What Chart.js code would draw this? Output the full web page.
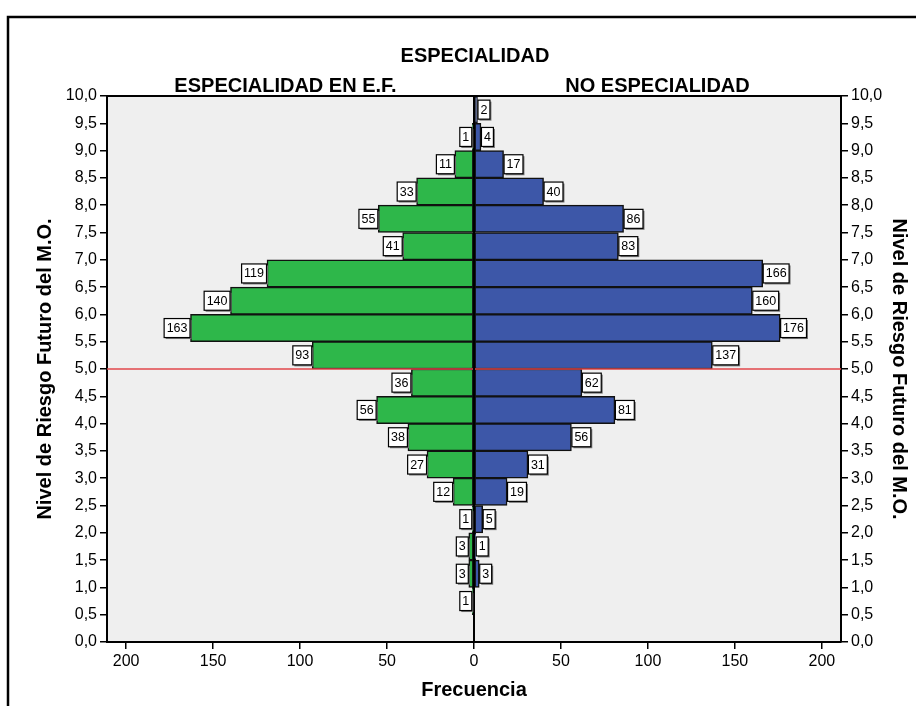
<!DOCTYPE html>
<html><head><meta charset="utf-8">
<script src="https://cdn.jsdelivr.net/npm/chart.js@4.4.0/dist/chart.umd.min.js"></script>
<style>html,body{margin:0;padding:0;background:#fff;} canvas{display:block;}</style>
</head><body>
<canvas id="c" width="916" height="706"></canvas>
<script>
// ---- data ----
const binCenters = [9.75, 9.25, 8.75, 8.25, 7.75, 7.25, 6.75, 6.25, 5.75, 5.25, 4.75, 4.25, 3.75, 3.25, 2.75, 2.25, 1.75, 1.25, 0.75, 0.25];
const efValues   = [0, 1, 11, 33, 55, 41, 119, 140, 163, 93, 36, 56, 38, 27, 12, 1, 3, 3, 1, 0];
const noValues   = [2, 4, 17, 40, 86, 83, 166, 160, 176, 137, 62, 81, 56, 31, 19, 5, 1, 3, 0, 0];
const xTickValues = [-200, -150, -100, -50, 0, 50, 100, 150, 200];
const yTickValues = [0, 0.5, 1, 1.5, 2, 2.5, 3, 3.5, 4, 4.5, 5, 5.5, 6, 6.5, 7, 7.5, 8, 8.5, 9, 9.5, 10];
const seriesNames = ['ESPECIALIDAD EN E.F.', 'NO ESPECIALIDAD'];
const mainTitle = 'ESPECIALIDAD';
const xTitle = 'Frecuencia';
const yTitle = 'Nivel de Riesgo Futuro del M.O.';
const cutoffLevel = 5.0;

const FONT = "'Liberation Sans', Arial, Helvetica, sans-serif";
const tickFont = { family: FONT, size: 16 };

function yFmt(v) { return Number(v).toFixed(1).replace('.', ','); }

const deco = {
  id: 'deco',
  beforeDraw(chart) {
    const { ctx, chartArea: a } = chart;
    ctx.save();
    ctx.fillStyle = '#ffffff';
    ctx.fillRect(0, 0, chart.width, chart.height);
    ctx.fillStyle = '#efefef';
    ctx.fillRect(a.left, a.top, a.right - a.left, a.bottom - a.top);
    // outer frame
    ctx.strokeStyle = '#000';
    ctx.lineWidth = 2.5;
    ctx.beginPath();
    ctx.moveTo(8, chart.height + 5);
    ctx.lineTo(8, 17);
    ctx.lineTo(chart.width + 5, 17);
    ctx.stroke();
    // titles
    ctx.fillStyle = '#000';
    ctx.textAlign = 'center';
    ctx.textBaseline = 'middle';
    ctx.font = 'bold 20px ' + FONT;
    const mid = chart.scales.x.getPixelForValue(0);
    ctx.fillText(mainTitle, mid + 1, 56);
    ctx.fillText(seriesNames[0], (a.left + mid) / 2 - 5, 86);
    ctx.fillText(seriesNames[1], (mid + a.right) / 2, 86);
    ctx.fillText(xTitle, mid, 690);
    const cy = (a.top + a.bottom) / 2;
    ctx.save();
    ctx.translate(45, cy);
    ctx.rotate(-Math.PI / 2);
    ctx.fillText(yTitle, 0, 0);
    ctx.restore();
    ctx.save();
    ctx.translate(899, cy);
    ctx.rotate(Math.PI / 2);
    ctx.fillText(yTitle, 0, 0);
    ctx.restore();
    ctx.restore();
  },
  afterDatasetsDraw(chart) {
    const { ctx, chartArea: a, scales } = chart;
    ctx.save();
    // cutoff red line
    const ry = scales.y.getPixelForValue(cutoffLevel);
    ctx.strokeStyle = '#e2474b';
    ctx.lineWidth = 1.6;
    ctx.beginPath();
    ctx.moveTo(a.left, ry);
    ctx.lineTo(a.right, ry);
    ctx.stroke();
    // zero line
    const zx = scales.x.getPixelForValue(0);
    ctx.strokeStyle = '#000';
    ctx.lineWidth = 2;
    ctx.beginPath();
    ctx.moveTo(zx, a.top);
    ctx.lineTo(zx, a.bottom);
    ctx.stroke();
    // top border of plot area
    ctx.lineWidth = 2;
    ctx.beginPath();
    ctx.moveTo(a.left, a.top);
    ctx.lineTo(a.right, a.top);
    ctx.stroke();
    // value labels
    ctx.font = '12.5px ' + FONT;
    ctx.textBaseline = 'middle';
    ctx.textAlign = 'center';
    const src = [efValues, noValues];
    [0, 1].forEach(d => {
      const meta = chart.getDatasetMeta(d);
      meta.data.forEach((bar, i) => {
        const v = src[d][i];
        if (!v) return;
        const txt = String(v);
        const w = ctx.measureText(txt).width + 5;
        const h = 19;
        const x0 = d === 0 ? bar.x - 0.5 - w : bar.x + 0.5;
        const y0 = bar.y - h / 2;
        ctx.fillStyle = '#777';
        ctx.fillRect(x0 + 1.5, y0 + 1.5, w, h);
        ctx.fillStyle = '#fff';
        ctx.fillRect(x0, y0, w, h);
        ctx.strokeStyle = '#000';
        ctx.lineWidth = 1.2;
        ctx.strokeRect(x0, y0, w, h);
        ctx.fillStyle = '#000';
        ctx.fillText(txt, x0 + w / 2, bar.y + 0.5);
      });
    });
    ctx.restore();
  }
};

const axisGrid = { drawOnChartArea: false, drawTicks: true, tickLength: 7, color: '#000', lineWidth: 1.5, offset: false };
const axisBorder = { color: '#000', width: 2 };

function yAxis(pos, w) {
  return {
    type: 'linear', position: pos, min: 0, max: 10, stacked: true, offset: false,
    afterBuildTicks: s => { s.ticks = yTickValues.map(v => ({ value: v })); },
    afterFit: s => { s.width = w; },
    ticks: { callback: v => yFmt(v), autoSkip: false, font: tickFont, color: '#000', padding: 3 },
    grid: axisGrid, border: axisBorder
  };
}

new Chart(document.getElementById('c'), {
  type: 'bar',
  data: {
    datasets: [
      {
        label: seriesNames[0],
        data: binCenters.map((c, i) => ({ x: -efValues[i], y: c })),
        backgroundColor: '#2eb74a', borderColor: '#111', borderWidth: 1.5, borderSkipped: false,
        barPercentage: 1, categoryPercentage: 1
      },
      {
        label: seriesNames[1],
        data: binCenters.map((c, i) => ({ x: noValues[i], y: c })),
        backgroundColor: '#3d57a8', borderColor: '#111', borderWidth: 1.5, borderSkipped: false,
        barPercentage: 1, categoryPercentage: 1
      }
    ]
  },
  options: {
    indexAxis: 'y',
    responsive: false,
    animation: false,
    devicePixelRatio: 1,
    layout: { padding: { top: 96, left: 0, right: 0, bottom: 0 } },
    plugins: { legend: { display: false }, tooltip: { enabled: false }, title: { display: false } },
    scales: {
      x: {
        type: 'linear', min: -211, max: 211, stacked: true, offset: false,
        afterBuildTicks: s => { s.ticks = xTickValues.map(v => ({ value: v })); },
        afterFit: s => { s.height = 64; },
        ticks: { callback: v => String(Math.abs(v)), autoSkip: false, maxRotation: 0, font: tickFont, color: '#000', padding: 3 },
        grid: axisGrid, border: axisBorder
      },
      y: yAxis('left', 107),
      y2: yAxis('right', 75)
    }
  },
  plugins: [deco]
});
</script>
</body></html>
